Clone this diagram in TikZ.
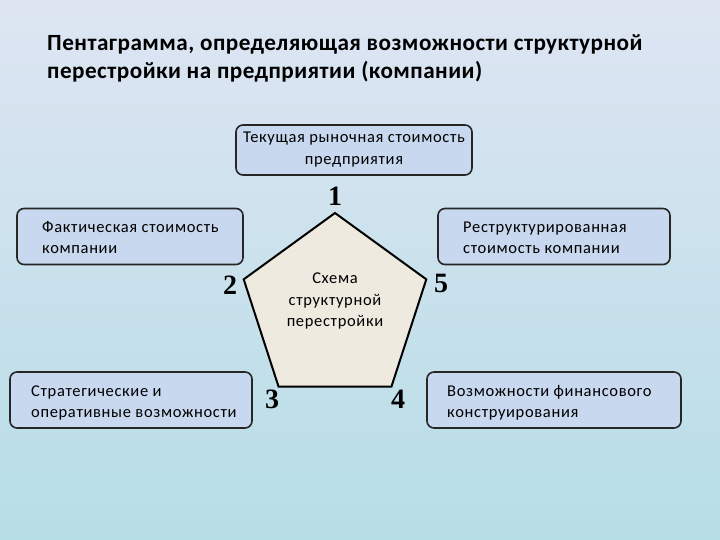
\documentclass[tikz,border=0pt]{standalone}
\usepackage{fontspec}
\setmainfont{Carlito}
\newfontfamily\numfont{Liberation Serif}
\newfontfamily\boxfont[LetterSpace=4]{Carlito}
\newfontfamily\titlefont[LetterSpace=2]{Carlito}
\usepackage{tikz}
\usetikzlibrary{shapes.geometric, positioning, calc}
\definecolor{bgtop}{RGB}{222,229,243}
\definecolor{bgmid}{RGB}{196,214,236}
\definecolor{bgbot}{RGB}{182,222,230}
\definecolor{boxfill}{RGB}{200,216,238}
\definecolor{pentfill}{RGB}{238,234,224}

\begin{document}
\begin{tikzpicture}[x=1pt, y=-1pt,
    box/.style={draw=black!85, line width=1.6pt, rounded corners=7pt, fill=boxfill, inner sep=0pt},
    boxtext/.style={font=\boxfont\fontsize{16.5}{21}\selectfont, align=left, anchor=west, inner sep=0pt},
    num/.style={font=\numfont\bfseries\fontsize{28}{28}\selectfont, inner sep=0pt}]

    % Background
    \shade[top color=bgtop, middle color=bgmid, bottom color=bgbot] (0,0) rectangle (720,540);
    \useasboundingbox (0,0) rectangle (720,540);

    % Title
    \node[anchor=north west, align=left, inner sep=0pt, font=\titlefont\bfseries\fontsize{23.2}{28}\selectfont] (title) at (47,34)
        {Пентаграмма, определяющая возможности структурной\\перестройки на предприятии (компании)};

    % Pentagon
    \node[regular polygon, regular polygon sides=5, minimum size=192pt, draw=black, line width=2pt, fill=pentfill] (scheme) at (335,309) {};
    \node[align=center, font=\boxfont\fontsize{16.5}{21.5}\selectfont] (schemetext) at ([yshift=8pt]scheme.center) {Схема\\структурной\\перестройки};

    % Corner numbers
    \node[num] (n1) at (335,196) {1};
    \node[num] (n2) at (230,285) {2};
    \node[num] (n3) at (272,399) {3};
    \node[num] (n4) at (398,399) {4};
    \node[num] (n5) at (441,283) {5};

    % Top box
    \node[box, minimum width=236pt, minimum height=50pt, align=center, font=\boxfont\fontsize{16.5}{22}\selectfont] (market) at (354,150)
        {Текущая рыночная стоимость\\предприятия};

    % Side boxes
    \node[box, minimum width=226pt, minimum height=56pt] (actual) at (130,236.5) {};
    \node[boxtext] (actualtext) at (42,238) {Фактическая стоимость\\компании};

    \node[box, minimum width=232pt, minimum height=56pt] (restruct) at (554,236.5) {};
    \node[boxtext] (restructtext) at (463,238) {Реструктурированная\\стоимость компании};

    % Bottom boxes
    \node[box, minimum width=242pt, minimum height=56pt] (strat) at (131,400) {};
    \node[boxtext] (strattext) at (31,403) {Стратегические и\\оперативные возможности};

    \node[box, minimum width=254pt, minimum height=56pt] (finance) at (554,400) {};
    \node[boxtext] (financetext) at (447,403) {Возможности финансового\\конструирования};
\end{tikzpicture}
\end{document}
